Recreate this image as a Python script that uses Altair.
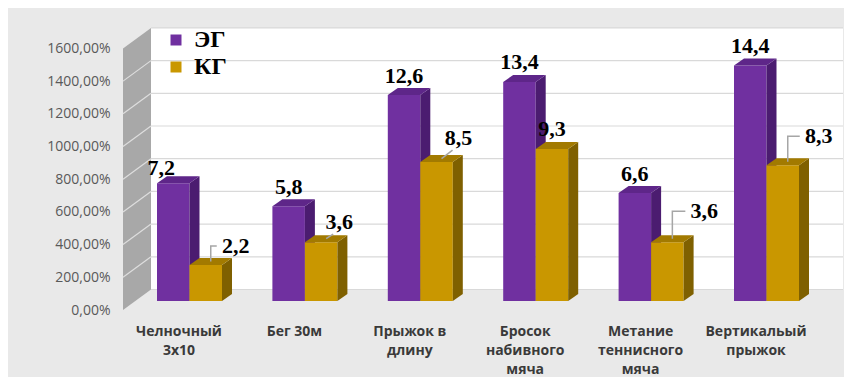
import altair as alt
import pandas as pd

# ---------------- data ----------------
categories = ["Челночный\n3х10", "Бег 30м", "Прыжок в\nдлину",
              "Бросок\nнабивного\nмяча", "Метание\nтеннисного\nмяча",
              "Вертикальый\nпрыжок"]
series_names = ["ЭГ", "КГ"]
eg_values = [7.2, 5.8, 12.6, 13.4, 6.6, 14.4]
kg_values = [2.2, 3.6, 8.5, 9.3, 3.6, 8.3]
y_ticks = [0, 200, 400, 600, 800, 1000, 1200, 1400, 1600]

# label placement (pixel offsets from the top-front centre of each bar)
eg_label_dx = [-12, 0, 0, 0, 0, 0]
eg_label_dy = [-15, -19, -19, -20, -19, -20]
kg_label_dx = [30, 18, 22, 0, 37, 36]
kg_label_dy = [-19, -20, -24, -20, -31, -29]
kg_leader = ["elbow", "diag", "diag", "", "elbow", "elbow"]

# ---------------- style / geometry ----------------
PURPLE, PURPLE_SIDE, PURPLE_TOP = "#7030a0", "#4b1c70", "#5e2689"
GOLD, GOLD_SIDE, GOLD_TOP = "#c99700", "#7f6000", "#a27a00"
face = {"ЭГ": (PURPLE, PURPLE_SIDE, PURPLE_TOP), "КГ": (GOLD, GOLD_SIDE, GOLD_TOP)}
SERIF = "Times New Roman, Liberation Serif, serif"

W, H = 720, 282
KX = 115.4                 # px per category
YMAX = 1725
KY = H / YMAX              # px per percent unit
XMIN = -56 / KX
XMAX = XMIN + W / KX
BOXDX = 28 / KX
BOXDY = 20.5 / KY
BASE = 9 / KY
DDX = 10 / KX
DDY = 7 / KY
BAR_L = {"ЭГ": -22 / KX, "КГ": 10.5 / KX}
BAR_W = 32.5 / KX

xs = alt.Scale(domain=[XMIN, XMAX], nice=False, zero=False)
ys = alt.Scale(domain=[0, YMAX], nice=False, zero=False)

# ---------------- tables ----------------
front_rows, side_rows, top_rows, lab_rows, lead_rows = [], [], [], [], []
for s, vals in zip(series_names, [eg_values, kg_values]):
    for g, v in enumerate(vals):
        bid = f"{s}{g}"
        xl = g + BAR_L[s]
        xr = xl + BAR_W
        y0 = BASE
        y1 = BASE + v * 100
        f, sd, tp = face[s]
        front_rows.append(dict(series=s, x=xl, x2=xr, y=y0, y2=y1))
        side_rows += [dict(series=s, id=bid, x=xr, y=y0, y2=y1, col=sd),
                      dict(series=s, id=bid, x=xr + DDX, y=y0 + DDY, y2=y1 + DDY, col=sd)]
        top_rows += [dict(series=s, id=bid, x=xl, y=y1, y2=y1, col=tp),
                     dict(series=s, id=bid, x=xl + DDX, y=y1, y2=y1 + DDY, col=tp),
                     dict(series=s, id=bid, x=xr, y=y1, y2=y1 + DDY, col=tp),
                     dict(series=s, id=bid, x=xr + DDX, y=y1 + DDY, y2=y1 + DDY, col=tp)]
        xc = (xl + xr) / 2
        if s == "ЭГ":
            dx, dy, kind = eg_label_dx[g], eg_label_dy[g], ""
        else:
            dx, dy, kind = kg_label_dx[g], kg_label_dy[g], kg_leader[g]
        lx = xc + dx / KX
        ly = y1 - dy / KY
        lab_rows.append(dict(x=lx, y=ly, text=f"{v:.1f}".replace(".", ",")))
        sx, sy = xc + DDX / 2, y1 + DDY / 2
        if kind == "elbow":
            pts = [(sx, sy), (sx, ly), (lx - 19 / KX, ly)]
        elif kind == "diag":
            pts = [(sx, sy), (lx - 6 / KX, ly - 12 / KY)]
        else:
            pts = []
        for k, (px, py) in enumerate(pts):
            lead_rows.append(dict(id=bid, k=k, x=px, y=py))

front = pd.DataFrame(front_rows)
side = pd.DataFrame(side_rows)
top = pd.DataFrame(top_rows)
labels = pd.DataFrame(lab_rows)
leaders = pd.DataFrame(lead_rows)

wall = pd.DataFrame([dict(x=XMIN + BOXDX, x2=XMAX, y=BOXDY, y2=YMAX)])
grid = pd.DataFrame([dict(x=XMIN + BOXDX, x2=XMAX, y=v + BOXDY) for v in y_ticks])
lwall = pd.DataFrame([dict(x=XMIN, y=0, y2=y_ticks[-1]),
                      dict(x=XMIN + BOXDX, y=BOXDY, y2=y_ticks[-1] + BOXDY)])
lgrid = pd.DataFrame([dict(v=v, x=XMIN, y=v) for v in y_ticks[1:-1]] +
                     [dict(v=v, x=XMIN + BOXDX, y=v + BOXDY) for v in y_ticks[1:-1]])
cats = pd.DataFrame(dict(x=list(range(len(categories))), y=[0] * len(categories),
                         label=categories))

# ---------------- layers ----------------
yaxis = alt.Axis(values=y_ticks, labelExpr="replace(format(datum.value, '.2f'), '.', ',') + '%'",
                 ticks=False, domain=False, grid=False, labelPadding=13,
                 labelFont="Open Sans", labelFontSize=14, labelColor="#595959", title=None)


def X():
    return alt.X("x:Q", scale=xs, axis=None)


def Y():
    return alt.Y("y:Q", scale=ys, axis=yaxis)


back = alt.Chart(wall).mark_rect(color="white").encode(x=X(), x2="x2", y=Y(), y2="y2")

grid_l = alt.Chart(grid).mark_rule(color="#d9d9d9", strokeWidth=1.2).encode(
    x=X(), x2="x2", y=Y())

lwall_l = alt.Chart(lwall).mark_area(color="#a8a8a8", opacity=1).encode(
    x=X(), y=Y(), y2="y2")

lgrid_l = alt.Chart(lgrid).mark_line(color="#dedede", strokeWidth=1.2).encode(
    x=X(), y=Y(), detail="v:N")

color_enc = alt.Color("series:N",
                      scale=alt.Scale(domain=series_names, range=[PURPLE, GOLD]),
                      legend=alt.Legend(orient="none", legendX=41, legendY=0, title=None,
                                        symbolType="square", symbolSize=121,
                                        symbolStrokeWidth=0, labelFont="Liberation Serif",
                                        labelFontSize=24, labelFontWeight="bold",
                                        labelColor="black", rowPadding=3, labelOffset=6,
                                        padding=0))

bar_layers = []
for s in series_names:
    bar_layers.append(alt.Chart(front[front.series == s]).mark_rect().encode(
        x=X(), x2="x2", y=Y(), y2="y2", color=color_enc))
    bar_layers.append(alt.Chart(side[side.series == s]).mark_area(opacity=1).encode(
        x=X(), y=Y(), y2="y2", fill=alt.Fill("col:N", scale=None), detail="id:N"))
    bar_layers.append(alt.Chart(top[top.series == s]).mark_area(opacity=1).encode(
        x=X(), y=Y(), y2="y2", fill=alt.Fill("col:N", scale=None), detail="id:N"))

lead_l = alt.Chart(leaders).mark_line(color="#a6a6a6", strokeWidth=1.5).encode(
    x=X(), y=Y(), detail="id:N", order="k:Q")

text_l = alt.Chart(labels).mark_text(font=SERIF, fontSize=22, fontWeight="bold",
                                     color="black", baseline="middle", align="center").encode(
    x=X(), y=Y(), text="text:N")

cat_l = alt.Chart(cats).mark_text(font="Open Sans", fontSize=14, fontWeight="bold",
                                  color="#3a3a3a", baseline="top", align="center",
                                  lineBreak="\n", lineHeight=19, dy=15).encode(
    x=X(), y=Y(), text="label:N")

chart = alt.layer(back, grid_l, lwall_l, lgrid_l, *bar_layers, lead_l, text_l, cat_l).properties(
    width=W, height=H,
    autosize=alt.AutoSizeParams(type="none"),
    padding={"left": 115, "top": 20, "right": 1, "bottom": 67},
    background="#e9e9e9",
).configure_view(stroke=None)

chart.save("out.html", embed_options={"renderer": "svg", "actions": False})
